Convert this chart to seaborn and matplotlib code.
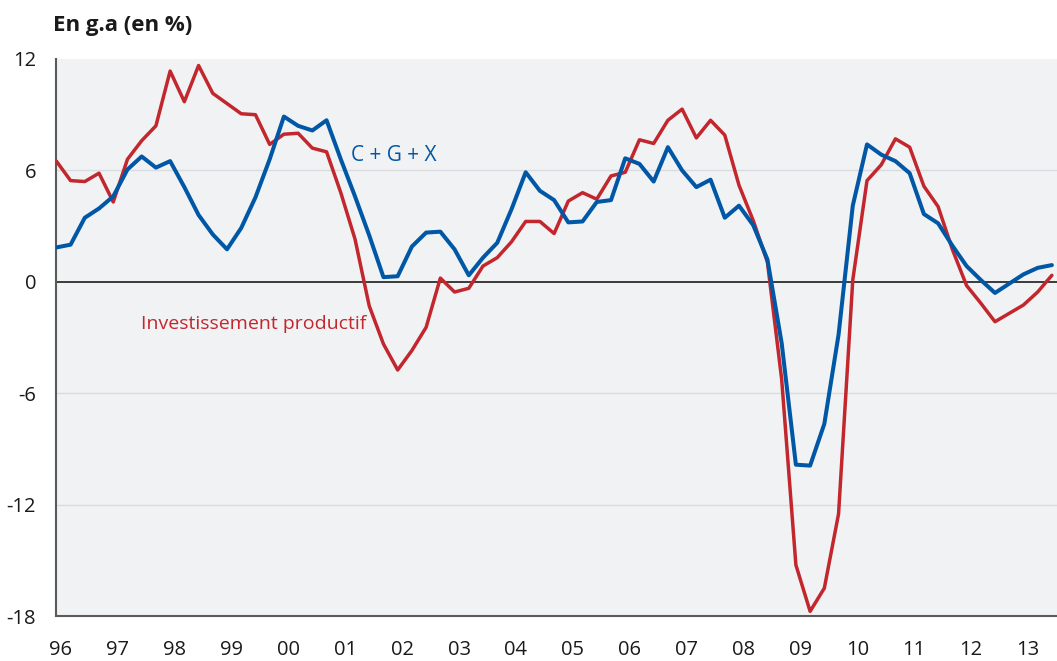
import pandas as pd
import matplotlib.pyplot as plt
import matplotlib.transforms as mtransforms
import seaborn as sns

# ---------------- Data (glissement annuel, %) ----------------
quarters = pd.period_range("1996Q1", "2013Q3", freq="Q")

invest_prod = [
    6.5, 5.45, 5.4, 5.85, 4.3, 6.6, 7.6, 8.4, 11.35, 9.7,
    11.65, 10.15, 9.6, 9.05, 9.0, 7.4, 7.95, 8.0, 7.2, 7.0,
    4.8, 2.3, -1.3, -3.35, -4.75, -3.7, -2.45, 0.2, -0.55, -0.35,
    0.85, 1.3, 2.15, 3.25, 3.25, 2.6, 4.35, 4.8, 4.45, 5.7,
    5.9, 7.65, 7.45, 8.7, 9.3, 7.75, 8.7, 7.9, 5.2, 3.3,
    1.05, -5.25, -15.25, -17.75, -16.5, -12.5, 0.1, 5.45, 6.3, 7.7,
    7.25, 5.15, 4.05, 1.75, -0.2, -1.15, -2.15, -1.7, -1.25, -0.55,
    0.35,
]

cgx = [
    1.85, 2.0, 3.45, 3.95, 4.6, 6.05, 6.75, 6.15, 6.5, 5.1,
    3.6, 2.55, 1.75, 2.9, 4.55, 6.6, 8.9, 8.4, 8.15, 8.7,
    6.6, 4.6, 2.5, 0.25, 0.3, 1.9, 2.65, 2.7, 1.75, 0.35,
    1.3, 2.1, 3.9, 5.9, 4.9, 4.4, 3.2, 3.25, 4.3, 4.4,
    6.65, 6.35, 5.4, 7.25, 6.0, 5.1, 5.5, 3.45, 4.1, 3.05,
    1.2, -3.3, -9.85, -9.9, -7.65, -2.85, 4.1, 7.4, 6.85, 6.5,
    5.85, 3.65, 3.15, 1.95, 0.85, 0.1, -0.6, -0.1, 0.4, 0.75,
    0.9,
]

year_ticks = list(range(1996, 2014))
year_labels = [f"{y % 100:02d}" for y in year_ticks]
y_ticks = [12, 6, 0, -6, -12, -18]

df = pd.DataFrame({
    "t": [p.year + (p.quarter - 1) / 4 for p in quarters],
    "invest": invest_prod,
    "cgx": cgx,
})

# ---------------- Style ----------------
sns.set_style("white")
plt.rcParams["font.family"] = ["Open Sans", "DejaVu Sans"]
plt.rcParams["axes.unicode_minus"] = False

red = "#C1272D"
blue = "#0057A6"

fig = plt.figure(figsize=(10.57, 6.61), dpi=100)
ax = fig.add_axes([55.5 / 1057, 1 - 616 / 661, 1 - 55.5 / 1057, (616 - 59) / 661])
ax.set_facecolor("#F1F2F4")

for yv in [6, -6, -12]:
    ax.axhline(yv, color="#DADBDE", lw=1, zorder=0)
ax.axhline(0, color="#3A3A3A", lw=1.4, zorder=1)

sns.lineplot(data=df, x="t", y="invest", color=red, lw=2.5, ax=ax, zorder=3)
sns.lineplot(data=df, x="t", y="cgx", color=blue, lw=2.9, ax=ax, zorder=4)

ax.set_xlim(1995.985, 2013.59)
ax.set_ylim(-18, 12)
ax.set_xlabel("")
ax.set_ylabel("")

ax.set_xticks(year_ticks)
ax.set_xticklabels(year_labels)
ax.set_yticks(y_ticks)
ax.set_yticklabels([str(v) for v in y_ticks])

ax.tick_params(axis="x", length=4, width=1, color="#9A9A9A", pad=13,
               labelsize=14.5, labelcolor="#1A1A1A")
ax.tick_params(axis="y", length=6, width=1, color="#9A9A9A", pad=8,
               labelsize=14.5, labelcolor="#1A1A1A")
offset = mtransforms.ScaledTranslation(4.5 / 100, 0, fig.dpi_scale_trans)
for lab in ax.get_xticklabels():
    lab.set_transform(lab.get_transform() + offset)

for side in ["top", "right"]:
    ax.spines[side].set_visible(False)
for side in ["left", "bottom"]:
    ax.spines[side].set_color("#5A5A5A")
    ax.spines[side].set_linewidth(1.5)

ax.text(2001.18, 6.8, "C + G + X", color=blue, fontsize=15, va="center", ha="left")
ax.text(1997.49, -2.28, "Investissement productif", color=red, fontsize=14,
        va="center", ha="left")

fig.text(53 / 1057, 1 - 25 / 661, "En g.a (en %)", fontsize=16, fontweight="bold",
         va="center", ha="left", color="#1A1A1A")

fig.savefig("out.png", dpi=100)
